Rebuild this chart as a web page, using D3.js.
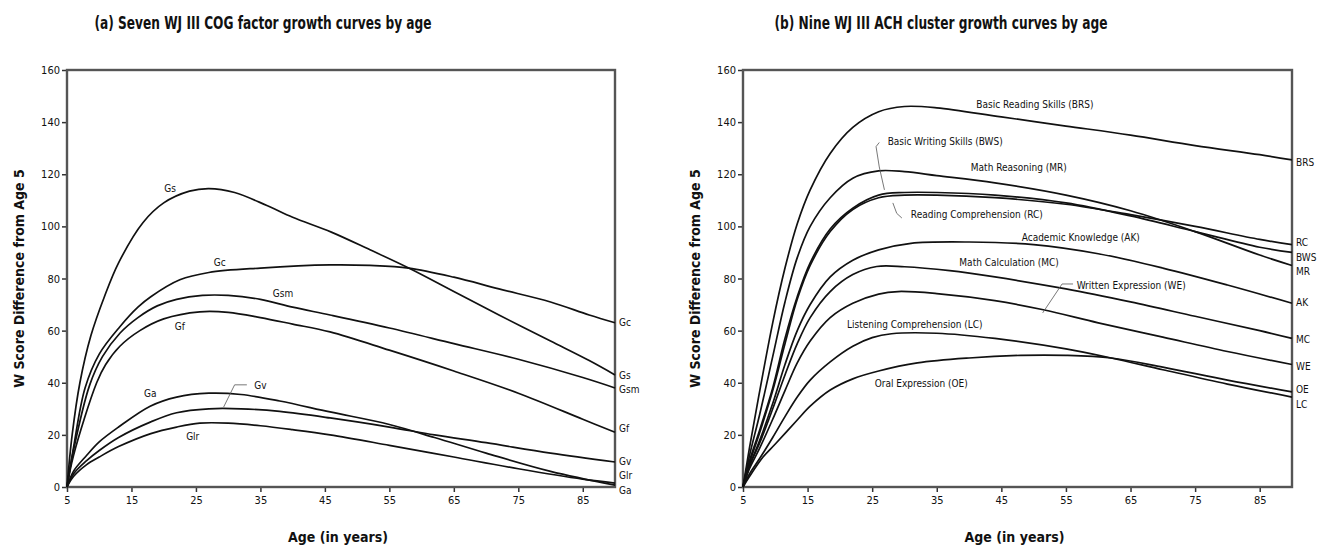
<!DOCTYPE html>
<html>
<head>
<meta charset="utf-8">
<title>WJ III growth curves by age</title>
<script src="https://cdn.jsdelivr.net/npm/d3@7"></script>
<style>
  body { margin: 0; background: #fff; }
  svg text { font-family: "Liberation Sans Narrow", "Arial Narrow", "DejaVu Sans Condensed", sans-serif; fill: #111; }
  .title { font-weight: bold; font-size: 17px; }
  .axis-title { font-weight: bold; font-size: 14px; }
  .tick text { font-size: 11px; }
  .lbl { font-size: 10px; }
</style>
</head>
<body>
<svg id="chart" width="1330" height="546"></svg>
<script>
// ---- data (age in years, W score difference from age 5) ----
const xTicks = [5, 15, 25, 35, 45, 55, 65, 75, 85];
const yTicks = [0, 20, 40, 60, 80, 100, 120, 140, 160];

// panel (a) COG factors
const cogNames = ['Gs', 'Gc', 'Gsm', 'Gf', 'Ga', 'Gv', 'Glr'];
const gs  = [[5,0],[5.8,20],[7,40],[8.7,58],[10.8,73],[13,86],[16.8,101.5],[20,109],[24,113.5],[27,114.5],[31,113],[36,108],[40,103.5],[46,97.8],[52,91],[58,84],[65,75],[72,66],[80,56],[86,48.5],[90,43]];
const gc  = [[5,0],[6,15],[7.8,38],[10,51],[13.2,61.5],[16,69],[18,73],[22.5,79.5],[27,82.3],[35,84],[45.8,85.2],[52,85],[58,84],[65,80.5],[72,76],[80,71],[86,66],[90,63]];
const gsm = [[5,0],[6,14],[8.5,39],[10.5,50],[13.2,59],[16,65],[19,69.5],[22,72],[26,73.5],[30,73.5],[35,72],[40,69],[45.8,66],[55,61],[65,55],[75,49],[85,42],[90,38]];
const gf  = [[5,0],[6,12],[9.6,40],[11,47],[13.2,54],[16.3,60],[20,64.5],[25.6,67.2],[30,67],[35,65],[40,62.5],[45.8,59.5],[55,52.5],[65,44.5],[75,36],[85,26],[90,21]];
const ga  = [[5,0],[6,6],[8,12],[10,17.3],[13,23],[17.9,31],[22,34.5],[27,36],[32,35.5],[38,33],[45.8,28.8],[55,24],[62,19],[70,13],[80,6],[90,0.7]];
const gv  = [[5,0],[6,5],[8,10],[10,14],[13,19],[18,25],[22,28.5],[27,30],[32,30],[38,29],[45.8,26.5],[55,23],[62,20],[70,17],[80,13],[90,9.6]];
const glr = [[5,0],[6,4],[8,8.5],[10,11.5],[13,15.5],[18,20.5],[22,23],[25.6,24.5],[30,24.5],[35,23.5],[40,22],[45.8,20],[55,16],[65,11.5],[75,7],[85,3],[90,1.5]];
const cogSeries = [gs, gc, gsm, gf, ga, gv, glr];

// in-plot labels [text, age, value] and right-edge labels [text, value]
const cogInLabels = [['Gs',21,114.7],['Gc',28.7,86],['Gsm',38.5,74.4],['Gf',22.5,61.4],['Ga',17.9,36],['Gv',35,38.8],['Glr',24.5,19.2]];
const cogEndLabels = [['Gc',63.3],['Gs',42.6],['Gsm',37.6],['Gf',22.6],['Gv',9.6],['Glr',4.4],['Ga',-1.4]];
const cogLeaders = [[[32.9,39.2],[31,39.2],[29.3,30.7]]];

// panel (b) ACH clusters
const achNames = ['BRS', 'MR', 'BWS', 'RC', 'AK', 'MC', 'WE', 'LC', 'OE'];
const brs = [[5,0],[6,15],[7.6,37],[9.6,63],[11.5,84],[13.4,101],[15.4,114],[18.5,128],[22,138],[26,144],[30,146],[35,145.5],[45,142],[55,138.5],[65,135],[75,131],[85,127.5],[90,125.5]];
const mr  = [[5,0],[6,12],[7.6,28],[9.6,50],[11.5,71],[13.4,88],[15.4,100],[18.5,111],[22,118.5],[26,121.3],[30,121],[35,119.5],[44,116.7],[55,112],[65,106],[75,98],[85,89],[90,85]];
const bws = [[5,0],[6,10],[7.6,22],[9.6,38],[11.5,57],[13.4,73],[15.4,86],[18.5,99],[22,107],[26,112],[30,113],[35,113],[44,112],[55,109],[65,104],[75,98],[85,92],[90,90]];
const rc  = [[5,0],[6,9],[7.6,21],[9.6,37],[11.5,55],[13.4,72],[15.4,85],[18.5,98],[22,106.5],[26,111],[30,112],[35,112],[44,111],[55,108.5],[65,104.5],[75,100],[85,95],[90,93]];
const ak  = [[5,0],[6,8],[7.6,18],[9.6,32],[11.5,47],[13.4,60],[15.4,70],[18.5,80.6],[22,87],[26,91],[31,93.5],[40,94],[50,93],[60,89.5],[70,84],[80,77.5],[90,70.5]];
const mc  = [[5,0],[6,8],[7.6,17],[9.6,30],[11.5,43],[13.4,55],[15.4,65],[18.5,75],[22,81.5],[25.7,84.6],[30,84.5],[37,83],[44,80.6],[55,76],[65,71],[75,65.5],[85,60],[90,57]];
const we  = [[5,0],[6,7],[7.6,15],[9.6,26],[11.5,37],[13.4,47.6],[15.4,56],[18.5,65],[22,70.5],[26,74],[29,75],[35,74.2],[44,71.5],[51.5,68],[60,63],[70,57.5],[80,52],[90,47]];
const lc  = [[5,0],[6,5],[7.6,11],[9.6,19],[11.5,27],[13.4,34.5],[15.4,41],[18.5,48],[22,54],[25,57.3],[28,58.8],[35,59],[44,57],[55,53],[62,49.5],[70,45],[80,39.5],[90,34.5]];
const oe  = [[5,0],[6,4],[8.1,11.5],[10,16.5],[13.4,25.7],[15.4,31],[18.5,37.2],[22,41.5],[26,44.5],[32,47.6],[40,49.5],[48,50.5],[55,50.5],[62,49.5],[70,46],[80,41],[90,36.5]];
const achSeries = [brs, mr, bws, rc, ak, mc, we, lc, oe];

const achInLabels = [
  ['Basic Reading Skills (BRS)',50.2,146.6],
  ['Basic Writing Skills (BWS)',36.3,132.4],
  ['Math Reasoning (MR)',47.7,122.4],
  ['Reading Comprehension (RC)',41.2,104.4],
  ['Academic Knowledge (AK)',57.3,95.9],
  ['Math Calculation (MC)',46.2,86],
  ['Written Expression (WE)',65.1,77.5],
  ['Listening Comprehension (LC)',31.6,62.5],
  ['Oral Expression (OE)',32.6,39.9]
];
const achEndLabels = [['BRS',124.4],['RC',94],['BWS',88],['MR',82.5],['AK',70.6],['MC',56.6],['WE',46.4],['OE',37.6],['LC',31.8]];
const achLeaders = [
  [[26.1,132.2],[25.6,130.6],[26.1,122.8],[26.9,114]],
  [[28.2,109],[28.8,105],[29.6,103.2]],
  [[56.1,77.9],[54.4,77.9],[51.4,66.8]]
];

const svg = d3.select('#chart');

function drawPanel(opt) {
  const x = d3.scaleLinear().domain([5, 90]).range([opt.left, opt.right]);
  const y = d3.scaleLinear().domain([0, 160]).range([487, 70]);
  const g = svg.append('g');

  // axes
  const ax = g.append('g').attr('transform', 'translate(0,487)')
    .call(d3.axisBottom(x).tickValues(xTicks).tickSize(5).tickPadding(4));
  const ay = g.append('g').attr('transform', `translate(${opt.left},0)`)
    .call(d3.axisLeft(y).tickValues(yTicks).tickSize(5).tickPadding(2));
  [ax, ay].forEach(a => {
    a.select('.domain').remove();
    a.selectAll('.tick line').attr('stroke', '#333').attr('stroke-width', 1.5);
  });

  // frame
  g.append('rect')
    .attr('x', opt.left).attr('y', y(160))
    .attr('width', opt.right - opt.left).attr('height', y(0) - y(160))
    .attr('fill', 'none').attr('stroke', '#555').attr('stroke-width', 2.4);

  // curves
  const line = d3.line().x(d => x(d[0])).y(d => y(d[1])).curve(d3.curveCatmullRom.alpha(0.5));
  g.selectAll('path.curve').data(opt.series).enter().append('path')
    .attr('class', 'curve')
    .attr('d', line)
    .attr('fill', 'none').attr('stroke', '#111').attr('stroke-width', 1.7);

  // leader lines
  const leader = d3.line().x(d => x(d[0])).y(d => y(d[1]));
  g.selectAll('path.leader').data(opt.leaders).enter().append('path')
    .attr('class', 'leader')
    .attr('d', leader)
    .attr('fill', 'none').attr('stroke', '#555').attr('stroke-width', 0.8);

  // in-plot labels
  g.selectAll('text.in').data(opt.inLabels).enter().append('text')
    .attr('class', 'lbl in')
    .attr('x', d => x(d[1])).attr('y', d => y(d[2]))
    .attr('text-anchor', 'middle').attr('dominant-baseline', 'central')
    .attr('font-size', opt.inSize)
    .text(d => d[0]);

  // right-edge labels
  g.selectAll('text.end').data(opt.endLabels).enter().append('text')
    .attr('class', 'lbl end')
    .attr('x', x(90) + 4).attr('y', d => y(d[1]))
    .attr('dominant-baseline', 'central')
    .text(d => d[0]);

  // titles
  svg.append('text').attr('class', 'title')
    .attr('x', opt.titleX).attr('y', 29).attr('text-anchor', 'middle')
    .attr('textLength', opt.titleW).attr('lengthAdjust', 'spacingAndGlyphs')
    .text(opt.title);
  svg.append('text').attr('class', 'axis-title')
    .attr('x', (opt.left + opt.right) / 2 - 3).attr('y', 542).attr('text-anchor', 'middle')
    .text('Age (in years)');
  svg.append('text').attr('class', 'axis-title')
    .attr('transform', `translate(${opt.yTitleX},${y(80)}) rotate(-90)`)
    .attr('text-anchor', 'middle')
    .text('W Score Difference from Age 5');
}

drawPanel({
  left: 67, right: 615, series: cogSeries,
  inLabels: cogInLabels, endLabels: cogEndLabels, leaders: cogLeaders, inSize: 11,
  title: '(a) Seven WJ III COG factor growth curves by age', titleX: 263, titleW: 337, yTitleX: 24
});
drawPanel({
  left: 743, right: 1292, series: achSeries,
  inLabels: achInLabels, endLabels: achEndLabels, leaders: achLeaders, inSize: 10,
  title: '(b) Nine WJ III ACH cluster growth curves by age', titleX: 941, titleW: 333, yTitleX: 700
});
</script>
</body>
</html>
